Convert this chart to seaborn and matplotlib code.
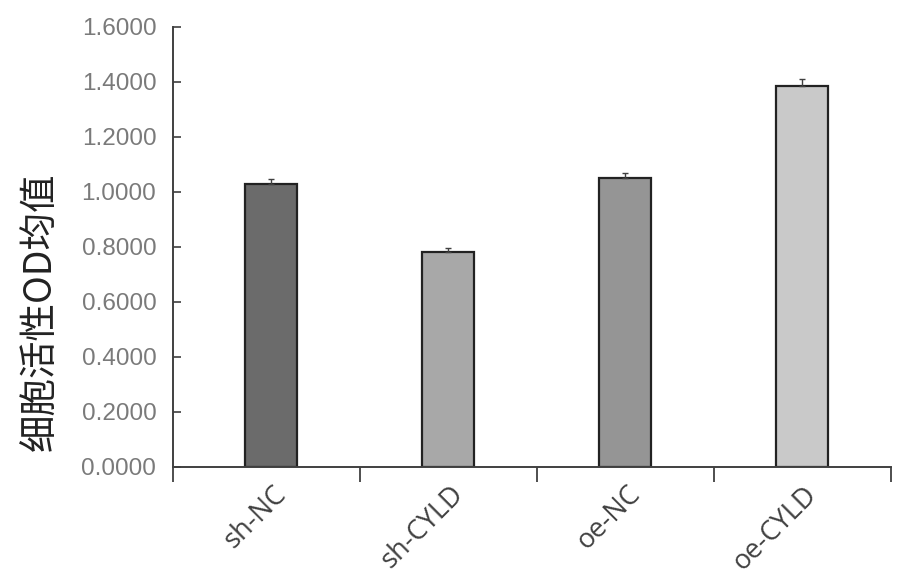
import matplotlib
matplotlib.use("Agg")
import matplotlib.pyplot as plt
from matplotlib.transforms import ScaledTranslation
import seaborn as sns
import pandas as pd

categories = ["sh-NC", "sh-CYLD", "oe-NC", "oe-CYLD"]
values = [1.029, 0.779, 1.048, 1.384]
errors = [0.018, 0.015, 0.020, 0.024]
colors = ["#6b6b6b", "#a8a8a8", "#959595", "#c9c9c9"]
y_ticks = [0.0, 0.2, 0.4, 0.6, 0.8, 1.0, 1.2, 1.4, 1.6]
y_label = "细胞活性OD均值"

sns.set_theme(style="white")
plt.rcParams["font.family"] = ["Liberation Sans", "DejaVu Sans"]

df = pd.DataFrame({"cat": categories, "val": values})

fig = plt.figure(figsize=(9.21, 5.80), dpi=100)
ax = fig.add_axes([0.1878, 0.1953, 0.967 - 0.1878, 0.9543 - 0.1953])

sns.barplot(data=df, x="cat", y="val", hue="cat", palette=colors, legend=False,
            width=0.294, edgecolor="#222222", linewidth=1.6, ax=ax, errorbar=None)

ax.errorbar(range(len(categories)), values, yerr=[[0] * len(errors), errors],
            fmt="none", ecolor="#404040", elinewidth=1.0, capsize=2.3, capthick=1.0)

ax.set_ylim(0, 1.6)
ax.set_xlim(-0.555, 3.5)
ax.set_yticks(y_ticks)
ax.set_yticklabels([f"{v:.4f}" for v in y_ticks])
ax.tick_params(axis="y", direction="in", length=6, width=1.2, color="#404040",
               labelsize=17.5, labelcolor="#7a7a7a", pad=12, left=True)

ax.set_xticks(range(len(categories)))
ax.set_xticklabels(categories, rotation=45, ha="right", va="center",
                   rotation_mode="anchor", fontsize=19.5, color="#404040",
                   family=["Open Sans", "DejaVu Sans"])
ax.tick_params(axis="x", length=0, pad=17)
for lab in ax.get_xticklabels():
    lab.set_transform(lab.get_transform() + ScaledTranslation(0.11, 0, fig.dpi_scale_trans))

ax.set_xticks([-0.555, 0.5, 1.5, 2.5, 3.5], minor=True)
ax.tick_params(axis="x", which="minor", direction="out", length=11, width=1.3,
               color="#404040", bottom=True)

for side in ["top", "right"]:
    ax.spines[side].set_visible(False)
for side in ["left", "bottom"]:
    ax.spines[side].set_color("#404040")
    ax.spines[side].set_linewidth(1.4)

ax.set_xlabel("")
ax.set_ylabel(y_label, fontsize=27, color="#222222",
              family=["Noto Sans CJK SC", "DejaVu Sans"])
ax.yaxis.set_label_coords(-0.157, 0.352)

fig.savefig("out.png", dpi=100, facecolor="white")
